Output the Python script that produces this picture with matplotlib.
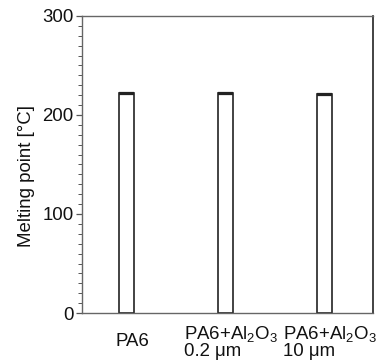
import matplotlib
matplotlib.use("Agg")
import matplotlib.pyplot as plt
import numpy as np

plt.rcParams['font.family'] = ['Liberation Sans', 'DejaVu Sans']
plt.rcParams['mathtext.fontset'] = 'custom'
plt.rcParams['mathtext.rm'] = 'Liberation Sans'
plt.rcParams['mathtext.it'] = 'Liberation Sans:italic'

categories = ['PA6', 'PA6+Al$_2$O$_3$\n0.2 μm', 'PA6+Al$_2$O$_3$\n10 μm']
melting = [222, 222, 221]
errors = [0.6, 0.6, 0.6]

FS = 13.4
fig = plt.figure(figsize=(3.86, 3.6), dpi=100)
ax = fig.add_axes([82/386, 47/360, 291/386, 297/360])

x = np.arange(len(categories))
ax.bar(x, melting, width=0.152, color='white', edgecolor='#222222', linewidth=1.2, zorder=2)
ax.errorbar(x, melting, yerr=errors, fmt='none', ecolor='#222222', capsize=5.4,
            capthick=1.6, elinewidth=0, zorder=3)

ax.set_xlim(-0.449, 2.49)
ax.set_ylim(0, 300)
ax.set_yticks([0, 100, 200, 300])
ax.set_yticks(np.arange(0, 301, 10), minor=True)
ax.tick_params(axis='y', which='major', direction='out', length=4, width=0.9,
               colors='#555555', labelcolor='#111111', labelsize=FS, pad=2)
ax.tick_params(axis='y', which='minor', direction='out', length=3, width=0.7, colors='#555555')
ax.set_xticks([])
for xi, lab in zip(x, categories):
    ax.text(xi + 0.06, -29, lab, ha='center', va='center', fontsize=FS, color='#111111',
            multialignment='left', linespacing=0.95, transform=ax.transData, clip_on=False)

ax.set_ylabel('Melting point [°C]', fontsize=FS, color='#111111')
ax.yaxis.set_label_coords(-0.16, 0.46)
for s in ['left', 'bottom', 'top']:
    ax.spines[s].set_color('#666666')
    ax.spines[s].set_linewidth(1.0)
ax.spines['right'].set_color('#222222')
ax.spines['right'].set_linewidth(1.2)

fig.savefig('out.png', dpi=100)
